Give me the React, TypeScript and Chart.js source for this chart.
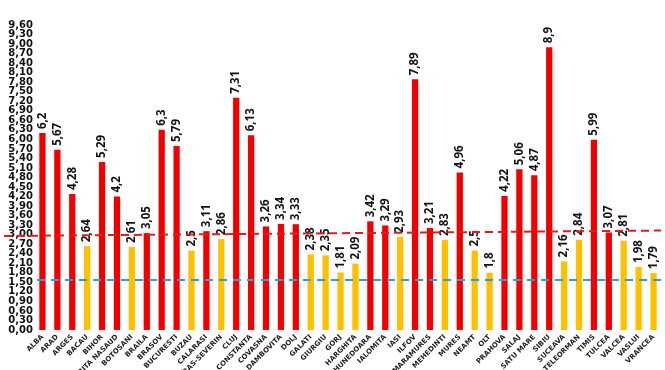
import React, { useEffect, useRef } from "react";
import { Chart, registerables } from "chart.js";

Chart.register(...registerables);

const categories = [
  "ALBA", "ARAD", "ARGES", "BACAU", "BIHOR", "BISTRITA NASAUD", "BOTOSANI", "BRAILA",
  "BRASOV", "BUCURESTI", "BUZAU", "CALARASI", "CARAS-SEVERIN", "CLUJ", "CONSTANTA",
  "COVASNA", "DAMBOVITA", "DOLJ", "GALATI", "GIURGIU", "GORJ", "HARGHITA", "HUNEDOARA",
  "IALOMITA", "IASI", "ILFOV", "MARAMURES", "MEHEDINTI", "MURES", "NEAMT", "OLT",
  "PRAHOVA", "SALAJ", "SATU MARE", "SIBIU", "SUCEAVA", "TELEORMAN", "TIMIS", "TULCEA",
  "VALCEA", "VASLUI", "VRANCEA",
];

const values = [
  6.2, 5.67, 4.28, 2.64, 5.29, 4.2, 2.61, 3.05, 6.3, 5.79, 2.5, 3.11, 2.86, 7.31, 6.13,
  3.26, 3.34, 3.33, 2.38, 2.35, 1.81, 2.09, 3.42, 3.29, 2.93, 7.89, 3.21, 2.83, 4.96,
  2.5, 1.8, 4.22, 5.06, 4.87, 8.9, 2.16, 2.84, 5.99, 3.07, 2.81, 1.98, 1.79,
];

// reference lines: [value at left edge, value at right edge]
const redLine = [2.96, 3.13];
const blueLine = [1.57, 1.57];
const threshold = 3;

const yMin = 0;
const yMax = 9.6;
const yStep = 0.3;

const RED = "#F20000";
const YELLOW = "#FFC000";

const fmt = (v: number) => String(v).replace(".", ",");

const overlayPlugin = {
  id: "overlay",
  afterDatasetsDraw(chart: any) {
    const { ctx, chartArea, scales } = chart;
    const y = scales.y;
    ctx.save();
    const meta = chart.getDatasetMeta(0);
    ctx.font = "bold 11.5px 'Open Sans', 'DejaVu Sans', sans-serif";
    ctx.fillStyle = "#111";
    ctx.textAlign = "left";
    ctx.textBaseline = "middle";
    meta.data.forEach((bar: any, i: number) => {
      ctx.save();
      ctx.translate(bar.x, bar.y - 4);
      ctx.rotate(-Math.PI / 2);
      ctx.fillText(fmt(values[i]), 0, 0);
      ctx.restore();
    });
    ctx.lineWidth = 2;
    ctx.setLineDash([8, 5]);
    ctx.strokeStyle = "#E21B1B";
    ctx.beginPath();
    ctx.moveTo(4, y.getPixelForValue(redLine[0]));
    ctx.lineTo(chartArea.right, y.getPixelForValue(redLine[1]));
    ctx.stroke();
    ctx.strokeStyle = "#2A9FD6";
    ctx.setLineDash([8, 6]);
    ctx.beginPath();
    ctx.moveTo(chartArea.left + 2, y.getPixelForValue(blueLine[0]));
    ctx.lineTo(chartArea.right, y.getPixelForValue(blueLine[1]));
    ctx.stroke();
    ctx.restore();
  },
};

export default function App() {
  const ref = useRef<HTMLCanvasElement>(null);
  useEffect(() => {
    document.body.style.margin = "0";
    const chart = new Chart(ref.current!, {
      type: "bar",
      data: {
        labels: categories,
        datasets: [
          {
            data: values,
            backgroundColor: values.map((v) => (v > threshold ? RED : YELLOW)),
            categoryPercentage: 1,
            barPercentage: 0.42,
          },
        ],
      },
      options: {
        animation: false,
        responsive: false,
        maintainAspectRatio: false,
        layout: { padding: { top: 25, right: 4, left: 0, bottom: 0 } },
        plugins: { legend: { display: false }, tooltip: { enabled: false } },
        scales: {
          x: {
            grid: { display: false, drawTicks: false },
            border: { display: false },
            ticks: {
              autoSkip: false,
              maxRotation: 45,
              minRotation: 45,
              padding: 3,
              color: "#222",
              font: { family: "'DejaVu Sans', sans-serif", size: 7, weight: "bold" },
            },
            afterFit: (s: any) => {
              s.height = 40;
            },
          },
          y: {
            min: yMin,
            max: yMax,
            grid: { display: false, drawTicks: false },
            border: { display: false },
            ticks: {
              autoSkip: false,
              stepSize: yStep,
              padding: 2,
              color: "#111",
              font: { family: "'DejaVu Sans', sans-serif", size: 10, weight: "bold" },
              callback: (v: any) => Number(v).toFixed(2).replace(".", ","),
            },
            afterFit: (s: any) => {
              s.width = 35;
            },
          },
        },
      },
      plugins: [overlayPlugin],
    });
    return () => chart.destroy();
  }, []);
  return (
    <div style={{ position: "fixed", left: 0, top: 0, width: 665, height: 370, background: "#fff" }}>
      <canvas ref={ref} width={665} height={370} />
    </div>
  );
}
